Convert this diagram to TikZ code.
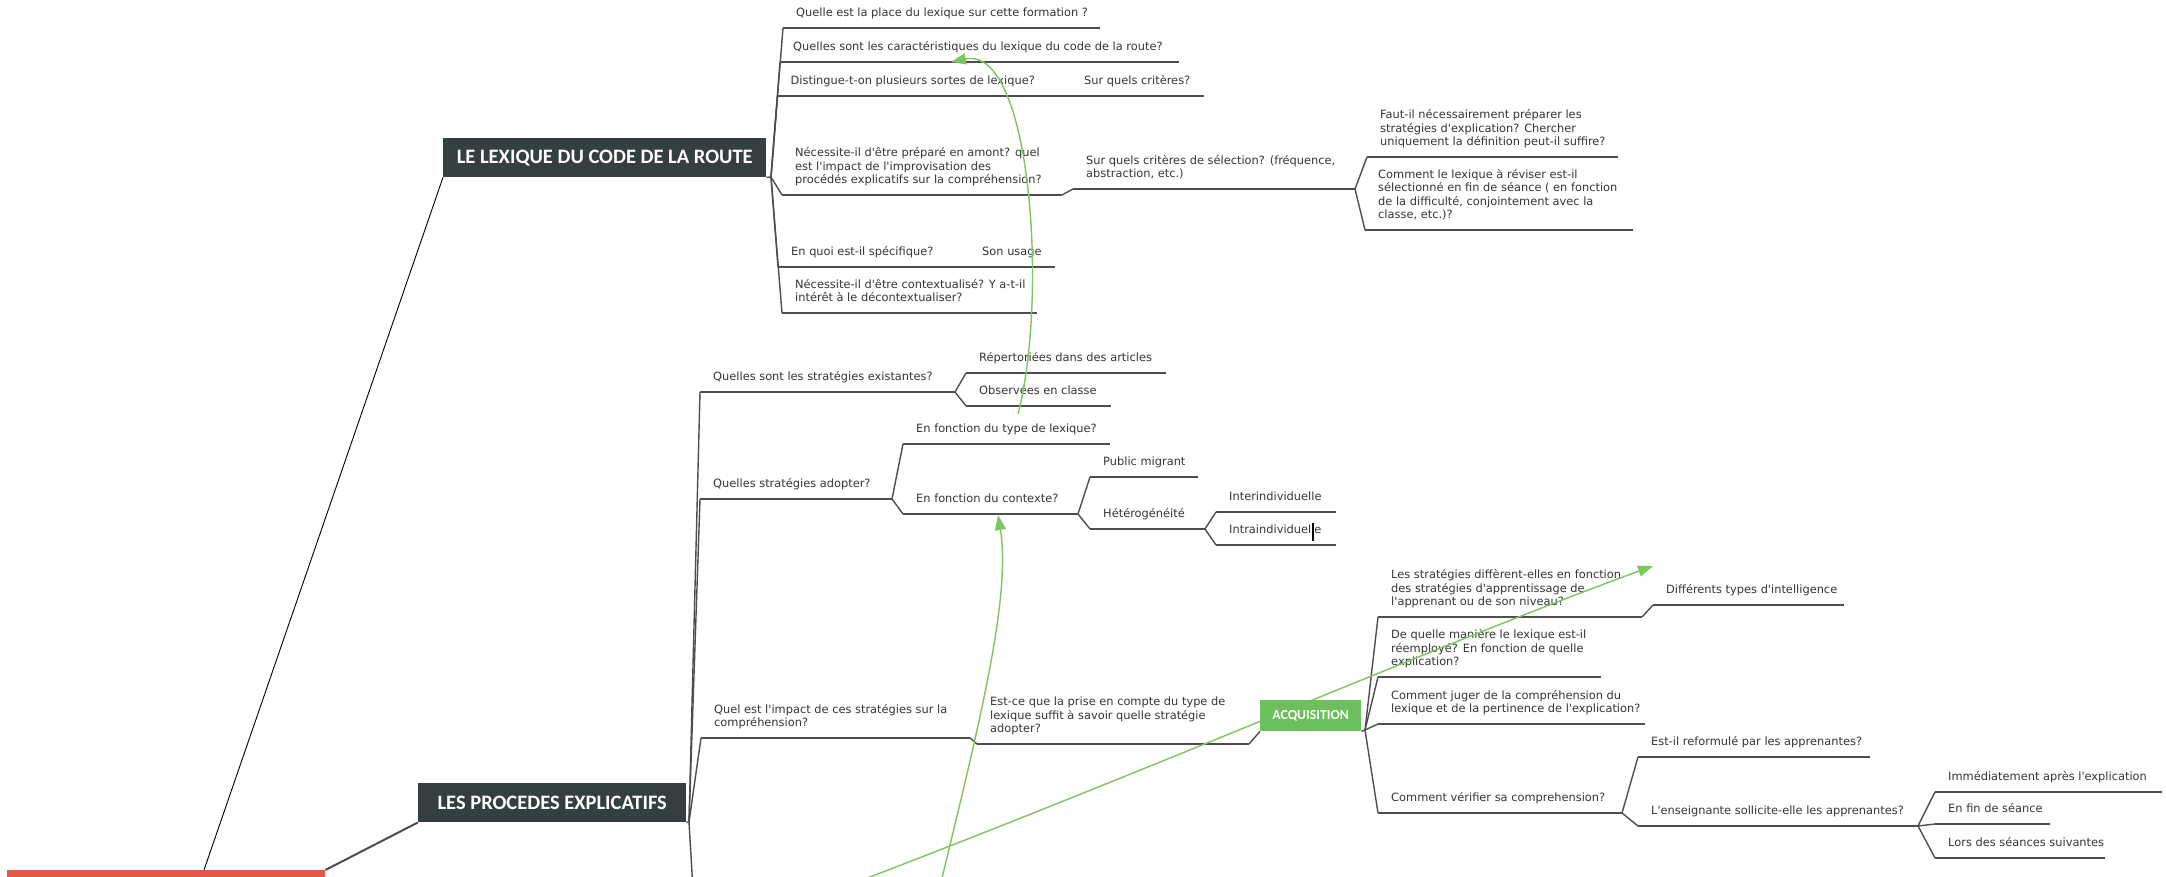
\documentclass[tikz,border=0pt]{standalone}
\usepackage{fontspec}
\newfontfamily\mmfont{DejaVu Sans}
\newfontfamily\hdfont{Carlito}
\usetikzlibrary{arrows.meta}
\definecolor{txtc}{HTML}{363636}
\definecolor{linec}{HTML}{4E4E4E}
\definecolor{slate}{HTML}{34403F}
\definecolor{rootred}{HTML}{E4584A}
\definecolor{acqgreen}{HTML}{6DBE5C}
\definecolor{relgreen}{HTML}{7DC55E}
% name, x start, x end, y of underline, text
\newcommand\mmt[5]{%
  \coordinate (#1-s) at (#2,#4);
  \coordinate (#1-e) at (#3,#4);
  \draw[ul] (#1-s) -- (#1-e);
  \node[tx] (#1) at ([xshift=13pt,yshift=7pt]#1-s) {#5\strut};
}
\begin{document}
\begin{tikzpicture}[x=1pt,y=-1pt,
  tx/.style={anchor=south west,inner sep=0pt,align=left,text=txtc,font=\mmfont\fontsize{11.4}{13.4}\selectfont},
  ul/.style={draw=linec,line width=1.7pt},
  br/.style={draw=linec,line width=1.4pt},
  hdbox/.style={fill=slate,text=white,font=\hdfont\bfseries\fontsize{20.5}{22}\selectfont,inner sep=0pt,minimum height=39pt,anchor=north west},
  rel/.style={draw=relgreen,line width=1.4pt,-{Triangle[length=15pt,width=11pt]},fill=none},
]
\useasboundingbox (0,0) rectangle (2166,877);
\fill[white] (0,0) rectangle (2166,877);
\clip (0,0) rectangle (2166,877);

% main topics
\node[fill=rootred,minimum width=318pt,minimum height=40pt,anchor=north west,inner sep=0pt] (root) at (7,870) {};
\node[hdbox,minimum width=323pt] (lex) at (443,138) {LE LEXIQUE DU CODE DE LA ROUTE};
\node[hdbox,minimum width=268pt] (proc) at (418,783) {LES PROCEDES EXPLICATIFS};
\draw[black,line width=0.9pt] ([xshift=197pt]root.north west) -- (lex.south west);
\draw[linec,line width=2pt] (root.north east) -- (proc.south west);

% ---------- LE LEXIQUE ----------
\coordinate (V1) at (771,177);
\draw[br] (lex.south east) -- (V1);
\mmt{c1}{783}{1100}{28}{Quelle est la place du lexique sur cette formation ?}
\mmt{c2}{780}{1179}{62}{Quelles sont les caractéristiques du lexique du code de la route?}
\mmt{c3}{777.5}{1071}{96}{Distingue-t-on plusieurs sortes de lexique?}
\mmt{c3a}{1071}{1204}{96}{Sur quels critères?}
\mmt{c4}{782}{1062}{195}{Nécessite-il d'être préparé en amont? quel\\est l'impact de l'improvisation des\\procédés explicatifs sur la compréhension?}
\mmt{c4a}{1073}{1355}{189}{Sur quels critères de sélection? (fréquence,\\abstraction, etc.)}
\mmt{f1}{1367}{1618}{157}{Faut-il nécessairement préparer les\\stratégies d'explication? Chercher\\uniquement la définition peut-il suffire?}
\mmt{f2}{1365}{1633}{230}{Comment le lexique à réviser est-il\\sélectionné en fin de séance ( en fonction\\de la difficulté, conjointement avec la\\classe, etc.)?}
\mmt{c5}{778}{969}{267}{En quoi est-il spécifique?}
\mmt{c5a}{969}{1055}{267}{Son usage}
\mmt{c6}{782}{1037}{313}{Nécessite-il d'être contextualisé? Y a-t-il\\intérêt à le décontextualiser?}
\foreach \n in {c1,c2,c3,c4,c5,c6} \draw[br] (V1) -- (\n-s);
\draw[br] (c4-e) -- (c4a-s);
\draw[br] (c4a-e) -- (f1-s);
\draw[br] (c4a-e) -- (f2-s);

% ---------- LES PROCEDES EXPLICATIFS ----------
\coordinate (V3) at (689,822);
\coordinate (p4) at (693,890);
\draw[br] (proc.south east) -- (V3);
\mmt{p1}{700}{955}{392}{Quelles sont les stratégies existantes?}
\mmt{r1}{966}{1166}{373}{Répertoriées dans des articles}
\mmt{r2}{966}{1111}{406}{Observées en classe}
\mmt{p2}{700}{892}{499}{Quelles stratégies adopter?}
\mmt{s1}{903}{1110}{444}{En fonction du type de lexique?}
\mmt{s2}{903}{1078}{514}{En fonction du contexte?}
\mmt{t1}{1090}{1198}{477}{Public migrant}
\mmt{t2}{1090}{1205}{529}{Hétérogénéité}
\mmt{u1}{1216}{1336}{512}{Interindividuelle}
\mmt{u2}{1216}{1336}{545}{Intraindividuelle}
\mmt{p3}{701}{970}{738}{Quel est l'impact de ces stratégies sur la\\compréhension?}
\mmt{q1}{977}{1249}{744}{Est-ce que la prise en compte du type de\\lexique suffit à savoir quelle stratégie\\adopter?}
\foreach \n in {p1,p2,p3} \draw[br] (V3) -- (\n-s);
\draw[br] (V3) -- (p4);
\draw[br] (p1-e) -- (r1-s);
\draw[br] (p1-e) -- (r2-s);
\draw[br] (p2-e) -- (s1-s);
\draw[br] (p2-e) -- (s2-s);
\draw[br] (s2-e) -- (t1-s);
\draw[br] (s2-e) -- (t2-s);
\draw[br] (t2-e) -- (u1-s);
\draw[br] (t2-e) -- (u2-s);
\draw[br] (p3-e) -- (q1-s);
\draw[black,line width=1.3pt] (1313,523) -- (1313,541);

% ACQUISITION branch
\coordinate (V9) at (1365,730);
\mmt{a1}{1378}{1642}{617}{Les stratégies diffèrent-elles en fonction\\des stratégies d'apprentissage de\\l'apprenant ou de son niveau?}
\mmt{a1a}{1653}{1844}{605}{Différents types d'intelligence}
\mmt{a2}{1378}{1601}{677}{De quelle manière le lexique est-il\\réemployé? En fonction de quelle\\explication?}
\mmt{a3}{1378}{1645}{724}{Comment juger de la compréhension du\\lexique et de la pertinence de l'explication?}
\mmt{a4}{1378}{1622}{813}{Comment vérifier sa comprehension?}
\mmt{b1}{1638}{1870}{757}{Est-il reformulé par les apprenantes?}
\mmt{b2}{1638}{1918}{826}{L'enseignante sollicite-elle les apprenantes?}
\mmt{d1}{1935}{2162}{792}{Immédiatement après l'explication}
\mmt{d2}{1935}{2050}{824}{En fin de séance}
\mmt{d3}{1935}{2105}{858}{Lors des séances suivantes}
\foreach \n in {a1,a2,a3,a4} \draw[br] (V9) -- (\n-s);
\draw[br] (a1-e) -- (a1a-s);
\draw[br] (a4-e) -- (b1-s);
\draw[br] (a4-e) -- (b2-s);
\foreach \n in {d1,d2,d3} \draw[br] (b2-e) -- (\n-s);

% green relationships
\coordinate (g1s) at (938,895);
\coordinate (g1e) at (998,515);
\coordinate (g2s) at (1018,414);
\coordinate (g2e) at (951,62);
\coordinate (g3s) at (862,880);
\coordinate (g3e) at (1653,566);
\draw[rel] (g1s) .. controls (975,740) and (1012,600) .. (g1e);
\draw[rel] (g2s) .. controls (1048,300) and (1032,45) .. (g2e);
\draw[rel] (g3s) .. controls (1150,770) and (1450,640) .. (g3e);

\node[fill=acqgreen,text=white,font=\hdfont\bfseries\fontsize{13.8}{15}\selectfont,minimum width=101pt,minimum height=31pt,inner sep=0pt,anchor=north west] (acq) at (1260,700) {ACQUISITION};
\draw[br] (q1-e) -- (acq.south west);
\draw[br] (acq.south east) -- (V9);
\end{tikzpicture}
\end{document}
